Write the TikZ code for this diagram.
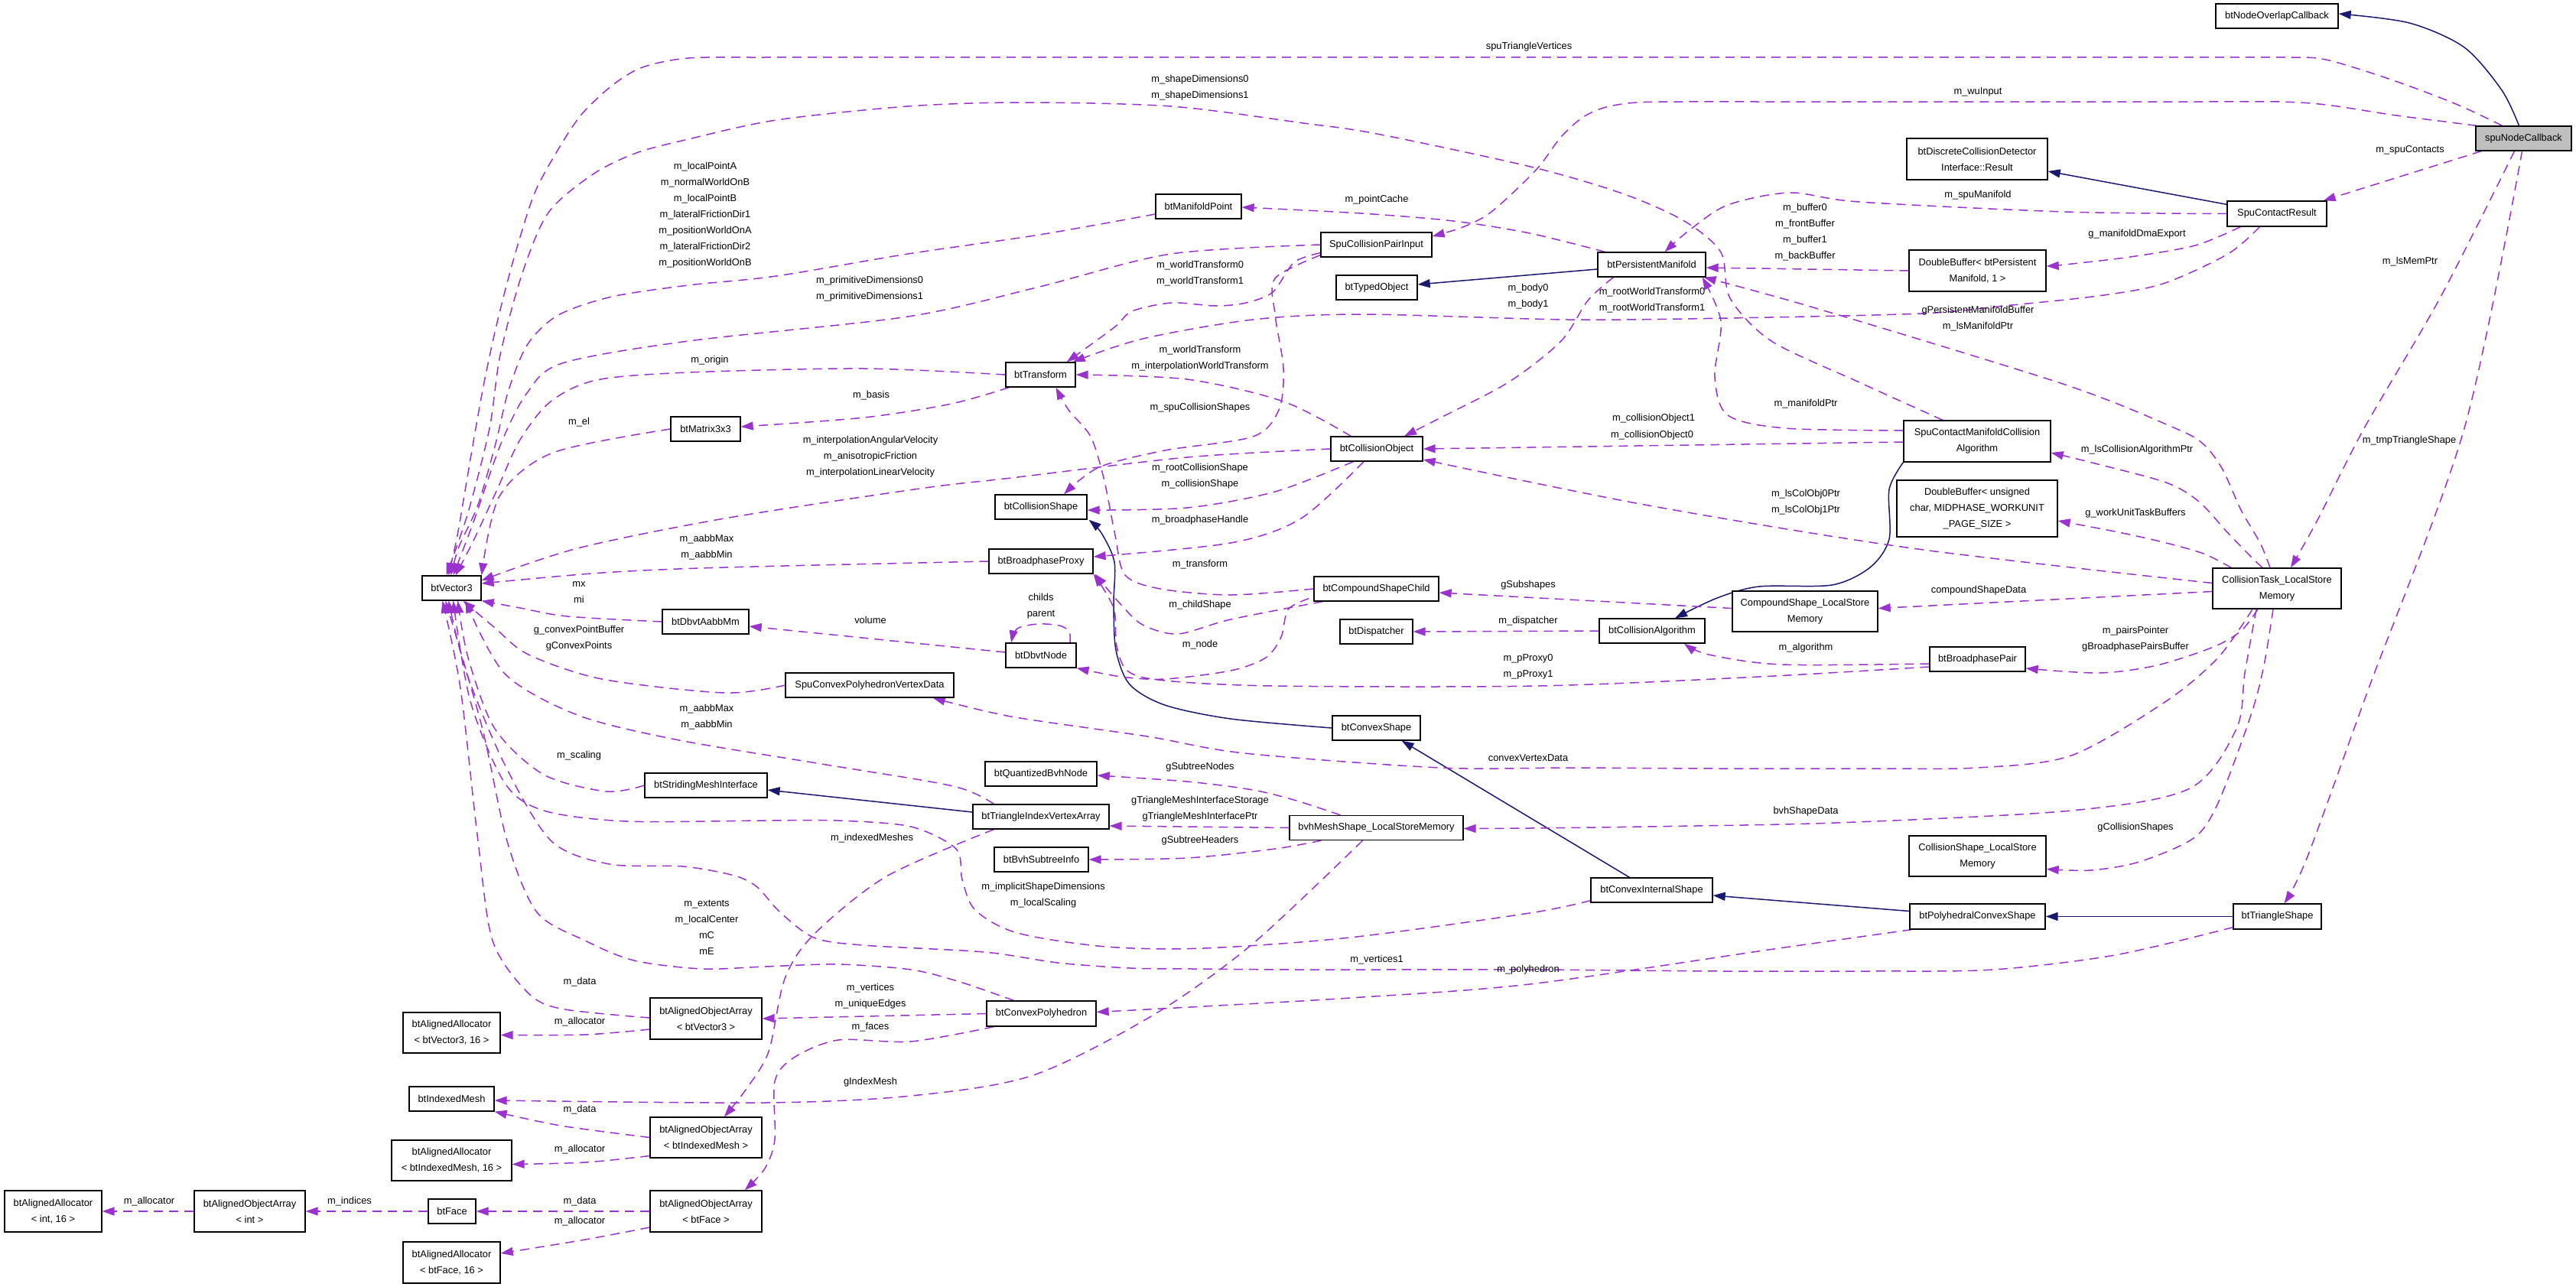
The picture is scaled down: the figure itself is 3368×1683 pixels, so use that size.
\documentclass[tikz,border=0pt]{standalone}
\usepackage{fontspec}
\setmainfont{Liberation Sans}
\usetikzlibrary{arrows.meta,calc}
\definecolor{orch}{RGB}{154,50,205}
\definecolor{navyc}{RGB}{25,25,112}
\definecolor{grayf}{RGB}{191,191,191}
\newcommand\dxf{\fontsize{12.9}{21}\selectfont}
\pgfdeclarelayer{bg}
\pgfsetlayers{bg,main}
\tikzset{
  cls/.style={draw=black, line width=1.3bp, fill=white, inner sep=0pt, align=center, font=\dxf},
  lb/.style={inner sep=0pt, align=center, font=\dxf},
  mem/.style={draw=orch, line width=1.5bp, dash pattern=on 12bp off 8bp, -{Triangle[length=16bp,width=11bp]}},
  inh/.style={draw=navyc, line width=1.5bp, -{Triangle[length=16bp,width=11bp]}},
}
\begin{document}
\begin{tikzpicture}[x=1bp,y=-1bp]
\useasboundingbox (0,0) rectangle (3368,1683);
% ---------------- nodes ----------------
\node[cls, minimum width=160bp, minimum height=32bp] (nodeover) at (2977,21) {btNodeOverlapCallback};
\node[cls, fill=grayf, minimum width=125bp, minimum height=32bp] (spucb) at (3299.5,181) {spuNodeCallback};
\node[cls, minimum width=130bp, minimum height=33bp] (scr) at (2977,279.5) {SpuContactResult};
\node[cls, minimum width=184bp, minimum height=54bp] (dcdres) at (2585,208) {btDiscreteCollisionDetector\\Interface::Result};
\node[cls, minimum width=179bp, minimum height=54bp] (dbpm) at (2585.5,354) {DoubleBuffer< btPersistent\\Manifold, 1 >};
\node[cls, minimum width=141bp, minimum height=32bp] (pm) at (2159.5,346) {btPersistentManifold};
\node[cls, minimum width=112bp, minimum height=32bp] (mp) at (1567,270) {btManifoldPoint};
\node[cls, minimum width=145bp, minimum height=32bp] (scpi) at (1799.5,320) {SpuCollisionPairInput};
\node[cls, minimum width=106bp, minimum height=32bp] (typed) at (1800,376) {btTypedObject};
\node[cls, minimum width=91bp, minimum height=32bp] (tr) at (1360.5,490) {btTransform};
\node[cls, minimum width=91bp, minimum height=32bp] (m33) at (922.5,561) {btMatrix3x3};
\node[cls, minimum width=120bp, minimum height=32bp] (co) at (1800,587) {btCollisionObject};
\node[cls, minimum width=120bp, minimum height=32bp] (cs) at (1361,663) {btCollisionShape};
\node[cls, minimum width=136bp, minimum height=32bp] (bp) at (1361,734) {btBroadphaseProxy};
\node[cls, minimum width=77bp, minimum height=32bp] (v3) at (590.5,769) {btVector3};
\node[cls, minimum width=113bp, minimum height=32bp] (aabb) at (922.5,813) {btDbvtAabbMm};
\node[cls, minimum width=92bp, minimum height=32bp] (dbvt) at (1361,857) {btDbvtNode};
\node[cls, minimum width=220bp, minimum height=32bp] (cpvd) at (1137,896) {SpuConvexPolyhedronVertexData};
\node[cls, minimum width=163bp, minimum height=32bp] (csc) at (1799.5,770) {btCompoundShapeChild};
\node[cls, minimum width=95bp, minimum height=32bp] (disp) at (1799.5,826) {btDispatcher};
\node[cls, minimum width=138bp, minimum height=32bp] (ca) at (2160,825) {btCollisionAlgorithm};
\node[cls, minimum width=190bp, minimum height=53bp] (cslsm) at (2360,799.5) {CompoundShape\_LocalStore\\Memory};
\node[cls, minimum width=192bp, minimum height=54bp] (scmca) at (2585,577) {SpuContactManifoldCollision\\Algorithm};
\node[cls, minimum width=210bp, minimum height=74bp] (dbuc) at (2585,665) {DoubleBuffer< unsigned\\char, MIDPHASE\_WORKUNIT\\\_PAGE\_SIZE >};
\node[cls, minimum width=168bp, minimum height=53bp] (ctls) at (2977,769.5) {CollisionTask\_LocalStore\\Memory};
\node[cls, minimum width=125bp, minimum height=32bp] (bpp) at (2585.5,862) {btBroadphasePair};
\node[cls, minimum width=115bp, minimum height=32bp] (convex) at (1799.5,952) {btConvexShape};
\node[cls, minimum width=146bp, minimum height=32bp] (qbvh) at (1361,1012) {btQuantizedBvhNode};
\node[cls, minimum width=160bp, minimum height=32bp] (smi) at (923,1027) {btStridingMeshInterface};
\node[cls, minimum width=178bp, minimum height=32bp] (tiva) at (1361,1068) {btTriangleIndexVertexArray};
\node[cls, minimum width=123bp, minimum height=32bp] (bvhsi) at (1361.5,1124) {btBvhSubtreeInfo};
\node[cls, minimum width=227bp, minimum height=32bp] (bvhm) at (1799.5,1082.5) {bvhMeshShape\_LocalStoreMemory};
\node[cls, minimum width=179bp, minimum height=53bp] (cshls) at (2585.5,1119.5) {CollisionShape\_LocalStore\\Memory};
\node[cls, minimum width=159bp, minimum height=32bp] (cis) at (2159.5,1164) {btConvexInternalShape};
\node[cls, minimum width=177bp, minimum height=33bp] (pcs) at (2585.5,1198.5) {btPolyhedralConvexShape};
\node[cls, minimum width=115bp, minimum height=33bp] (tri) at (2977.5,1198.5) {btTriangleShape};
\node[cls, minimum width=143bp, minimum height=33bp] (cph) at (1361.5,1325.5) {btConvexPolyhedron};
\node[cls, minimum width=146bp, minimum height=54bp] (aoav3) at (923,1332) {btAlignedObjectArray\\< btVector3 >};
\node[cls, minimum width=127bp, minimum height=53bp] (aav3) at (590.5,1350.5) {btAlignedAllocator\\< btVector3, 16 >};
\node[cls, minimum width=111bp, minimum height=32bp] (im) at (590.5,1437) {btIndexedMesh};
\node[cls, minimum width=146bp, minimum height=53bp] (aoaim) at (923,1487.5) {btAlignedObjectArray\\< btIndexedMesh >};
\node[cls, minimum width=157bp, minimum height=53bp] (aaim) at (590.5,1517.5) {btAlignedAllocator\\< btIndexedMesh, 16 >};
\node[cls, minimum width=127bp, minimum height=54bp] (aaint) at (69.5,1584) {btAlignedAllocator\\< int, 16 >};
\node[cls, minimum width=145bp, minimum height=54bp] (aoaint) at (326.5,1584) {btAlignedObjectArray\\< int >};
\node[cls, minimum width=62bp, minimum height=32bp] (face) at (591,1584) {btFace};
\node[cls, minimum width=146bp, minimum height=54bp] (aoaface) at (923,1584) {btAlignedObjectArray\\< btFace >};
\node[cls, minimum width=127bp, minimum height=54bp] (aaface) at (590.5,1651) {btAlignedAllocator\\< btFace, 16 >};

% ---------------- edges ----------------
\begin{pgfonlayer}{bg}
% inheritance
\draw[inh] plot[smooth] coordinates {($(spucb.north)+(-6,0)$) (3271,118) (3222,62) (3150,30) ($(nodeover.east)+(0,-3)$)};
\draw[inh] ($(scr.north west)+(0,5)$) -- ($(dcdres.east)+(0,16)$);
\draw[inh] ($(pm.west)+(0,6)$) -- ($(typed.east)+(0,-4)$);
\draw[inh] plot[smooth] coordinates {(scmca.south west) (2470,640) (2470,705) (2445,742) (2395,765) (2300,767) (2245,782) ($(ca.north)+(30,0)$)};
\draw[inh] plot[smooth] coordinates {(convex.west) (1609,940) (1523,922) (1477,895) (1459,850) (1456,790) (1457,735) (1440,697) ($(cs.south east)+(2,0)$)};
\draw[inh] ($(cis.north)+(-29,0)$) -- ($(convex.south east)+(-25,0)$);
\draw[inh] ($(pcs.west)+(0,-7)$) -- ($(cis.east)+(0,7)$);
\draw[inh] (tri.west) -- (pcs.east);
\draw[inh] ($(tiva.west)+(0,-6)$) -- ($(smi.east)+(0,6)$);
% members
\draw[mem] plot[smooth] coordinates {($(spucb.north)+(-28,0)$) (3211,136) (3126,104) (3041,78) (2990,75) (2900,75) (2750,75) (2500,75) (2100,75) (1600,75) (1200,75) (1000,75) (900,76) (840,88) (800,112) (760,150) (730,195) (700,250) (680,310) (663,370) (648,430) (634,495) (622,560) (610,630) (598,700) ($(v3.north)+(-4,0)$)};
\draw[mem] plot[smooth] coordinates {($(spucb.north west)+(2,0)$) (3180,157) (3126,150) (3041,137) (2980,133) (2880,133) (2700,133) (2450,133) (2300,133) (2200,133) (2140,134) (2100,140) (2070,153) (2041,179) (2012,218) (1975,255) (1943,282) (1910,298) ($(scpi.east)+(0,-11)$)};
\draw[mem] ($(spucb.south west)+(8,0)$) -- ($(scr.north east)+(-5,0)$);
\draw[mem] plot[smooth] coordinates {($(spucb.south)+(-12,0)$) (3190,390) (3091,560) (3030,680) ($(ctls.north)+(18,0)$)};
\draw[mem] plot[smooth] coordinates {($(spucb.south)+(-2,0)$) (3222,560) (3097,900) (3017,1120) ($(tri.north)+(9,0)$)};
\draw[mem] plot[smooth] coordinates {(scr.west) (2700,277) (2431,264) (2340,252) (2259,268) (2210,300) ($(pm.north)+(17,0)$)};
\draw[mem] plot[smooth] coordinates {($(scr.south west)+(18,0)$) (2870,321) (2785,336) (2700,346) ($(dbpm.east)+(0,-6)$)};
\draw[mem] plot[smooth] coordinates {($(scr.south west)+(43,0)$) (2913,332) (2828,371) (2743,387) (2620,400) (2512,410) (2259,416) (2050,418) (1781,411) (1638,418) (1494,443) ($(tr.north east)+(-4,0)$)};
\draw[mem] plot[smooth] coordinates {($(pm.north west)+(10,0)$) (2000,305) (1900,289) (1780,279) ($(mp.east)+(0,1)$)};
\draw[mem] (dbpm.west) -- ($(pm.east)+(0,4)$);
\draw[mem] plot[smooth] coordinates {($(pm.south west)+(21,0)$) (2076,393) (2041,446) (1972,500) (1880,548) ($(co.north)+(36,0)$)};
\draw[mem] plot[smooth] coordinates {($(mp.west)+(0,10)$) (1359,307) (1187,332) (1015,361) (900,373) (800,388) (730,412) (690,450) (665,510) (648,580) (625,660) (600,715) ($(v3.north)+(-1,0)$)};
\draw[mem] plot[smooth] coordinates {(scpi.west) (1531,332) (1359,375) (1187,414) (900,446) (735,475) (689,514) (655,580) (620,680) ($(v3.north)+(2,0)$)};
\draw[mem] plot[smooth] coordinates {($(scpi.south west)+(0,-6)$) (1692,343) (1664,382) (1629,396) (1589,400) (1532,396) (1480,407) (1457,428) ($(tr.north east)+(-12,0)$)};
\draw[mem] plot[smooth] coordinates {($(scpi.south west)+(0,-3)$) (1667,364) (1667,411) (1678,482) (1672,536) (1638,571) (1523,589) (1437,611) ($(cs.north)+(30,0)$)};
\draw[mem] plot[smooth] coordinates {(tr.west) (1130,482) (900,487) (780,497) (720,525) (680,575) (650,640) (620,705) ($(v3.north)+(5,0)$)};
\draw[mem] plot[smooth] coordinates {($(tr.south west)+(5,0)$) (1244,528) (1130,546) ($(m33.east)+(0,-3)$)};
\draw[mem] plot[smooth] coordinates {(m33.west) (723,592) (653,649) (v3.north east)};
\draw[mem] plot[smooth] coordinates {($(co.north west)+(27,0)$) (1678,525) (1552,496) (tr.east)};
\draw[mem] plot[smooth] coordinates {(co.west) (1552,598) (1322,625) (1202,639) (947,678) (755,717) ($(v3.east)+(0,-10)$)};
\draw[mem] plot[smooth] coordinates {($(co.south west)+(30,0)$) (1667,643) (1552,664) ($(cs.east)+(0,4)$)};
\draw[mem] plot[smooth] coordinates {($(co.south)+(-17,0)$) (1701,678) (1609,710) ($(bp.east)+(0,-6)$)};
\draw[mem] ($(scmca.west)+(0,1)$) -- (co.east);
\draw[mem] plot[smooth] coordinates {($(scmca.west)+(0,-14)$) (2334,560) (2259,543) (2242,493) (2250,420) ($(pm.south east)+(-5,0)$)};
\draw[mem] plot[smooth] coordinates {($(scmca.north)+(-45,0)$) (2431,500) (2316,446) (2262,390) (2250,330) (2202,289) (2121,253) (2001,218) (1800,175) (1704,161) (1531,139) (1336,134) (1187,139) (1015,157) (900,182) (832,200) (775,228) (717,278) (683,357) (654,464) (640,560) (612,670) ($(v3.north)+(-7,0)$)};
\draw[mem] plot[smooth] coordinates {(bp.west) (947,742) (787,749) ($(v3.east)+(0,-6)$)};
\draw[mem] plot[smooth] coordinates {(aabb.west) (742,806) (680,795) (v3.south east)};
\draw[mem] ($(dbvt.west)+(0,-4)$) -- ($(aabb.east)+(0,6)$);
\draw[mem] plot[smooth] coordinates {($(dbvt.north)+(38,0)$) (1398,826) (1385,818) (1357,816) (1330,822) ($(dbvt.north)+(-39,0)$)};
\draw[mem] plot[smooth] coordinates {(cpvd.west) (947,906) (787,888) (691,856) (647,821) ($(v3.south)+(15,0)$)};
\draw[mem] plot[smooth] coordinates {($(tiva.north west)+(28,0)$) (1246,1028) (1074,999) (883,967) (755,935) (660,881) ($(v3.south)+(18,0)$)};
\draw[mem] plot[smooth] coordinates {(smi.west) (793,1035) (711,1013) (647,953) (612,860) ($(v3.south)+(8,0)$)};
\draw[mem] plot[smooth] coordinates {($(cis.south west)+(0,-3)$) (2000,1194) (1765,1226) (1574,1240) (1446,1238) (1330,1220) (1275,1190) (1258,1150) (1250,1110) (1191,1081) (1096,1073) (1000,1073) (819,1074) (711,1060) (660,1024) (615,917) ($(v3.south)+(2,0)$)};
\draw[mem] plot[smooth] coordinates {($(tri.south west)+(0,-3)$) (2765,1249) (2606,1268) (2450,1270) (2250,1270) (2000,1268) (1700,1268) (1560,1267) (1478,1266) (1383,1259) (1287,1245) (1128,1236) (1064,1226) (1019,1192) (990,1160) (960,1145) (893,1133) (797,1130) (721,1100) (660,1000) (610,880) ($(v3.south)+(-4,0)$)};
\draw[mem] plot[smooth] coordinates {($(pcs.south west)+(3,0)$) (2319,1241) (2000,1287) (1765,1305) (1574,1316) ($(cph.east)+(0,-2)$)};
\draw[mem] plot[smooth] coordinates {($(cph.north)+(-36,0)$) (1255,1284) (1191,1268) (1096,1261) (1000,1264) (918,1267) (829,1256) (765,1230) (702,1193) (663,1100) (630,950) ($(v3.south)+(-8,0)$)};
\draw[mem] (cph.west) -- (aoav3.east);
\draw[mem] plot[smooth] coordinates {($(cph.south west)+(10,0)$) (1191,1362) (1096,1360) (1038,1383) (1013,1414) (1013,1490) (1000,1528) ($(aoaface.north east)+(-23,0)$)};
\draw[mem] plot[smooth] coordinates {($(bvhm.south)+(-18,0)$) (1638,1234) (1510,1326) (1351,1406) (1191,1433) (1000,1442) ($(im.east)+(0,2)$)};
\draw[mem] plot[smooth] coordinates {($(bvhm.north)+(-47,0)$) (1695,1047) (1638,1033) (1552,1022) ($(qbvh.east)+(0,2)$)};
\draw[mem] (bvhm.west) -- ($(tiva.east)+(0,12)$);
\draw[mem] plot[smooth] coordinates {($(bvhm.south west)+(42,0)$) (1667,1110) (1552,1122) (bvhsi.east)};
\draw[mem] plot[smooth] coordinates {($(tiva.south west)+(28,0)$) (1159,1146) (1064,1222) (1026,1280) (1005,1375) (975,1425) ($(aoaim.north)+(24,0)$)};
\draw[mem] plot[smooth] coordinates {($(aoav3.west)+(0,-1)$) (733,1319) (689,1297) (644,1230) (625,1100) (602,900) ($(v3.south)+(-12,0)$)};
\draw[mem] plot[smooth] coordinates {($(aoav3.west)+(0,14)$) (765,1353) ($(aav3.east)+(0,3)$)};
\draw[mem] plot[smooth] coordinates {(aoaim.west) (733,1472) (im.south east)};
\draw[mem] plot[smooth] coordinates {($(aoaim.west)+(0,24)$) (765,1520) ($(aaim.east)+(0,5)$)};
\draw[mem] (aoaface.west) -- (face.east);
\draw[mem] plot[smooth] coordinates {($(aoaface.west)+(0,21)$) (765,1621) ($(aaface.east)+(0,-12)$)};
\draw[mem] (face.west) -- (aoaint.east);
\draw[mem] (aoaint.west) -- (aaint.east);
% collision task
\draw[mem] plot[smooth] coordinates {($(ctls.west)+(0,-7)$) (2500,717) (2150,660) ($(co.east)+(0,14)$)};
\draw[mem] plot[smooth] coordinates {($(ctls.north)+(-19,0)$) (2943,728) (2912,696) (2875,656) (2832,631) (2739,606) ($(scmca.east)+(0,15)$)};
\draw[mem] plot[smooth] coordinates {($(ctls.north)+(-9,0)$) (2955,710) (2930,667) (2906,614) (2881,581) (2844,560) (2700,503) (2374,403) ($(pm.south east)+(-3,0)$)};
\draw[mem] plot[smooth] coordinates {($(ctls.north west)+(25,0)$) (2881,724) (2832,710) (2770,696) ($(dbuc.east)+(0,16)$)};
\draw[mem] ($(ctls.west)+(0,4)$) -- ($(cslsm.east)+(0,-4)$);
\draw[mem] plot[smooth] coordinates {($(ctls.south)+(-25,0)$) (2930,825) (2894,846) (2820,870) (2745,880) ($(bpp.east)+(0,12)$)};
\draw[mem] plot[smooth] coordinates {($(ctls.south)+(-32,0)$) (2900,860) (2832,917) (2708,988) (2585,1004) (2450,1005) (2250,1005) (2050,1004) (1883,1004) (1627,985) (1500,963) (1322,937) ($(cpvd.south east)+(-28,0)$)};
\draw[mem] plot[smooth] coordinates {($(ctls.south)+(-27,0)$) (2935,880) (2924,953) (2863,1031) (2708,1060) (2400,1076) (2150,1081) (2000,1083) ($(bvhm.east)+(0,1)$)};
\draw[mem] plot[smooth] coordinates {($(ctls.south)+(-5,0)$) (2960,870) (2943,935) (2900,1050) (2868,1096) (2797,1127) (2734,1138) ($(cshls.east)+(0,17)$)};
% others
\draw[mem] ($(cslsm.west)+(0,-4)$) -- ($(csc.east)+(0,5)$);
\draw[mem] (ca.west) -- (disp.east);
\draw[mem] plot[smooth] coordinates {($(bpp.west)+(0,6)$) (2329,869) (2234,856) ($(ca.south)+(42,0)$)};
\draw[mem] plot[smooth] coordinates {($(bpp.west)+(0,10)$) (2300,885) (2010,897) (1667,897) (1523,890) (1475,878) (1460,845) (1456,795) (bp.south east)};
\draw[mem] plot[smooth] coordinates {(csc.west) (1609,778) (1517,770) (1471,752) (1458,700) (1443,625) (1426,571) (1397,536) ($(tr.south)+(20,0)$)};
\draw[mem] plot[smooth] coordinates {($(csc.south west)+(12,0)$) (1609,810) (1540,829) (1494,817) (1465,790) ($(bp.south east)+(2,0)$)};
\draw[mem] plot[smooth] coordinates {($(csc.south west)+(-6,-4)$) (1684,797) (1675,833) (1655,860) (1609,877) (1523,888) (1466,885) (dbvt.south east)};
\end{pgfonlayer}

% ---------------- labels ----------------
\node[lb] (l1) at (1999,61) {spuTriangleVertices};
\node[lb] (l2) at (2586,120) {m\_wuInput};
\node[lb] (l3) at (1569,114.5) {m\_shapeDimensions0\\m\_shapeDimensions1};
\node[lb] (l4) at (922,281) {m\_localPointA\\m\_normalWorldOnB\\m\_localPointB\\m\_lateralFrictionDir1\\m\_positionWorldOnA\\m\_lateralFrictionDir2\\m\_positionWorldOnB};
\node[lb] (l5) at (1800,261) {m\_pointCache};
\node[lb] (l6) at (2586,255) {m\_spuManifold};
\node[lb] (l7) at (2360,304) {m\_buffer0\\m\_frontBuffer\\m\_buffer1\\m\_backBuffer};
\node[lb] (l8) at (3151,196) {m\_spuContacts};
\node[lb] (l9) at (2794,306) {g\_manifoldDmaExport};
\node[lb] (l10) at (3151,342) {m\_lsMemPtr};
\node[lb] (l11) at (1137,377.5) {m\_primitiveDimensions0\\m\_primitiveDimensions1};
\node[lb] (l12) at (1569,357.5) {m\_worldTransform0\\m\_worldTransform1};
\node[lb] (l13) at (1998,387.5) {m\_body0\\m\_body1};
\node[lb] (l14) at (2160,393) {m\_rootWorldTransform0\\m\_rootWorldTransform1};
\node[lb] (l15) at (2586,416.5) {gPersistentManifoldBuffer\\m\_lsManifoldPtr};
\node[lb] (l16) at (928,471) {m\_origin};
\node[lb] (l17) at (1569,468.5) {m\_worldTransform\\m\_interpolationWorldTransform};
\node[lb] (l18) at (1139,517) {m\_basis};
\node[lb] (l19) at (1569,533) {m\_spuCollisionShapes};
\node[lb] (l20) at (2361,528) {m\_manifoldPtr};
\node[lb] (l21) at (2162,547) {m\_collisionObject1};
\node[lb] (l22) at (2160,569) {m\_collisionObject0};
\node[lb] (l23) at (757,552) {m\_el};
\node[lb] (l24) at (1138,597) {m\_interpolationAngularVelocity\\m\_anisotropicFriction\\m\_interpolationLinearVelocity};
\node[lb] (l25) at (3150,576) {m\_tmpTriangleShape};
\node[lb] (l26) at (2794,588) {m\_lsCollisionAlgorithmPtr};
\node[lb] (l27) at (1569,623) {m\_rootCollisionShape\\m\_collisionShape};
\node[lb] (l28) at (2361,657) {m\_lsColObj0Ptr\\m\_lsColObj1Ptr};
\node[lb] (l29) at (2792,671) {g\_workUnitTaskBuffers};
\node[lb] (l30) at (1569,680) {m\_broadphaseHandle};
\node[lb] (l31) at (924,715.5) {m\_aabbMax\\m\_aabbMin};
\node[lb] (l32) at (1569,738) {m\_transform};
\node[lb] (l33) at (757,774.5) {mx\\mi};
\node[lb] (l34) at (1998,765) {gSubshapes};
\node[lb] (l35) at (2587,772) {compoundShapeData};
\node[lb] (l36) at (1361,793) {childs\\parent};
\node[lb] (l37) at (1569,791) {m\_childShape};
\node[lb] (l38) at (1138,811) {volume};
\node[lb] (l39) at (1998,812) {m\_dispatcher};
\node[lb] (l40) at (757,835) {g\_convexPointBuffer\\gConvexPoints};
\node[lb] (l41) at (1569,843) {m\_node};
\node[lb] (l42) at (2792,835.5) {m\_pairsPointer\\gBroadphasePairsBuffer};
\node[lb] (l43) at (2361,847) {m\_algorithm};
\node[lb] (l44) at (1998,872) {m\_pProxy0\\m\_pProxy1};
\node[lb] (l45) at (924,938) {m\_aabbMax\\m\_aabbMin};
\node[lb] (l46) at (757,988) {m\_scaling};
\node[lb] (l47) at (1998,991) {convexVertexData};
\node[lb] (l48) at (1569,1003) {gSubtreeNodes};
\node[lb] (l49) at (1569,1057.5) {gTriangleMeshInterfaceStorage\\gTriangleMeshInterfacePtr};
\node[lb] (l50) at (2361,1061) {bvhShapeData};
\node[lb] (l51) at (2792,1082) {gCollisionShapes};
\node[lb] (l52) at (1140,1096) {m\_indexedMeshes};
\node[lb] (l53) at (1569,1099) {gSubtreeHeaders};
\node[lb] (l54) at (1364,1170.5) {m\_implicitShapeDimensions\\m\_localScaling};
\node[lb] (l55) at (924,1213) {m\_extents\\m\_localCenter\\mC\\mE};
\node[lb] (l56) at (1800,1255) {m\_vertices1};
\node[lb] (l57) at (1998,1268) {m\_polyhedron};
\node[lb] (l58) at (758,1284) {m\_data};
\node[lb] (l59) at (1138,1302.5) {m\_vertices\\m\_uniqueEdges};
\node[lb] (l60) at (758,1336) {m\_allocator};
\node[lb] (l61) at (1138,1343) {m\_faces};
\node[lb] (l62) at (1138,1415) {gIndexMesh};
\node[lb] (l63) at (758,1451) {m\_data};
\node[lb] (l64) at (758,1503) {m\_allocator};
\node[lb] (l65) at (195,1571) {m\_allocator};
\node[lb] (l66) at (457,1571) {m\_indices};
\node[lb] (l67) at (758,1571) {m\_data};
\node[lb] (l68) at (758,1597) {m\_allocator};
\end{tikzpicture}
\end{document}
